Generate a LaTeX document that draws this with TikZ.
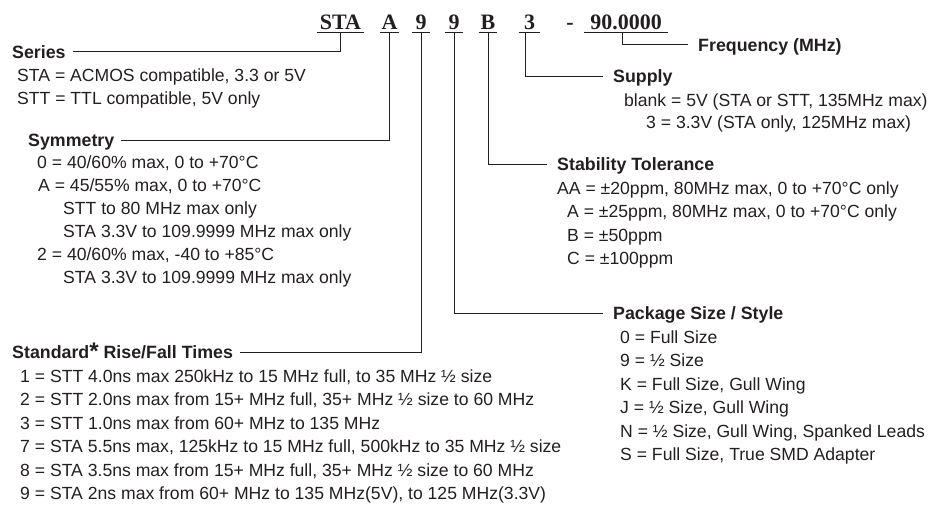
\documentclass[tikz,border=0pt]{standalone}
\usepackage{fontspec}
\setmainfont{Liberation Sans}
\newfontfamily\pnfont{Liberation Serif}
\definecolor{ink}{HTML}{231F20}
\tikzset{
  pn/.style={font=\pnfont\bfseries\fontsize{22}{22}\selectfont, text=ink, anchor=south, inner xsep=0pt, inner ysep=3pt, text height=15pt, text depth=0pt},
  headL/.style={font=\bfseries\fontsize{17.8}{20}\selectfont, text=ink, anchor=west, inner xsep=7pt, inner ysep=0pt, text height=12.6pt, text depth=0pt},
  headR/.style={font=\bfseries\fontsize{17.8}{20}\selectfont, text=ink, anchor=west, inner xsep=10pt, inner ysep=0pt, text height=12.6pt, text depth=0pt},
  body/.style={font=\fontsize{17.6}{20}\selectfont, text=ink, anchor=base west, inner sep=0pt},
  conn/.style={draw=ink, line width=1pt},
  uline/.style={draw=ink, line width=1pt}
}
\begin{document}
\begin{tikzpicture}[x=1pt,y=-1pt]
\useasboundingbox (0,0) rectangle (949,519);
% part number
\node[pn, minimum width=47pt] (pSTA) at (340.5,33) {STA};
\node[pn, minimum width=19pt] (pA) at (389.5,33) {A};
\node[pn, minimum width=18pt] (p9a) at (421,33) {9};
\node[pn, minimum width=18pt] (p9b) at (454,33) {9};
\node[pn, minimum width=18pt] (pB) at (488,33) {B};
\node[pn, minimum width=21pt] (p3) at (529.5,33) {3};
\node[pn] (pdash) at (570,33) {-};
\node[pn, minimum width=84pt] (pF) at (626,33) {90.0000};
\foreach \n in {pSTA,pA,p9a,p9b,pB,p3,pF}
  \draw[uline] (\n.south west) -- (\n.south east);
% headings
\node[headL] (series) at (5,52) {Series};
\node[headL] (symm) at (21,140) {Symmetry};
\node[headL] (std) at (5,352) {Standard{\fontsize{24}{24}\selectfont\raisebox{-1pt}{*}} Rise/Fall Times};
\node[headR] (freq) at (688,45) {Frequency (MHz)};
\node[headR] (supply) at (603,76) {Supply};
\node[headR] (stab) at (547,164) {Stability Tolerance};
\node[headR] (pkg) at (603,313) {Package Size / Style};
% connectors
\draw[conn] (pSTA.south) |- (series.east);
\draw[conn] (pA.south) |- (symm.east);
\draw[conn] (p9a.south) |- (std.east);
\draw[conn] (p9b.south) |- (pkg.west);
\draw[conn] (pB.south) |- (stab.west);
\draw[conn] ([xshift=-4.5pt]p3.south) |- (supply.west);
\draw[conn] ([xshift=-4pt]pF.south) |- (freq.west);
% Series
\node[body] (se1) at (17,81) {STA = ACMOS compatible, 3.3 or 5V};
\node[body] (se2) at (17,104) {STT = TTL compatible, 5V only};
% Symmetry
\node[body] (sy1) at (37,168) {0 = 40/60\% max, 0 to +70°C};
\node[body] (sy2) at (38,191) {A = 45/55\% max, 0 to +70°C};
\node[body] (sy3) at (63,214) {STT to 80 MHz max only};
\node[body] (sy4) at (63,237) {STA 3.3V to 109.9999 MHz max only};
\node[body] (sy5) at (37,260) {2 = 40/60\% max, -40 to +85°C};
\node[body] (sy6) at (63,283) {STA 3.3V to 109.9999 MHz max only};
% Standard rise/fall
\node[body] (st1) at (20,382) {1 = STT 4.0ns max 250kHz to 15 MHz full, to 35 MHz ½ size};
\node[body] (st2) at (20,405.5) {2 = STT 2.0ns max from 15+ MHz full, 35+ MHz ½ size to 60 MHz};
\node[body] (st3) at (20,429) {3 = STT 1.0ns max from 60+ MHz to 135 MHz};
\node[body] (st4) at (20,452.5) {7 = STA 5.5ns max, 125kHz to 15 MHz full, 500kHz to 35 MHz ½ size};
\node[body] (st5) at (20,476) {8 = STA 3.5ns max from 15+ MHz full, 35+ MHz ½ size to 60 MHz};
\node[body] (st6) at (20,499.5) {9 = STA 2ns max from 60+ MHz to 135 MHz(5V), to 125 MHz(3.3V)};
% Supply
\node[body] (su1) at (624,106) {blank = 5V (STA or STT, 135MHz max)};
\node[body] (su2) at (646,128) {3 = 3.3V (STA only, 125MHz max)};
% Stability
\node[body] (sb1) at (557,194) {AA = ±20ppm, 80MHz max, 0 to +70°C only};
\node[body] (sb2) at (567,217.5) {A = ±25ppm, 80MHz max, 0 to +70°C only};
\node[body] (sb3) at (567,241) {B = ±50ppm};
\node[body] (sb4) at (567,264.5) {C = ±100ppm};
% Package
\node[body] (pk1) at (620,343) {0 = Full Size};
\node[body] (pk2) at (620,366.5) {9 = ½ Size};
\node[body] (pk3) at (620,390) {K = Full Size, Gull Wing};
\node[body] (pk4) at (620,413.5) {J = ½ Size, Gull Wing};
\node[body] (pk5) at (620,437) {N = ½ Size, Gull Wing, Spanked Leads};
\node[body] (pk6) at (620,460.5) {S = Full Size, True SMD Adapter};
\end{tikzpicture}
\end{document}
